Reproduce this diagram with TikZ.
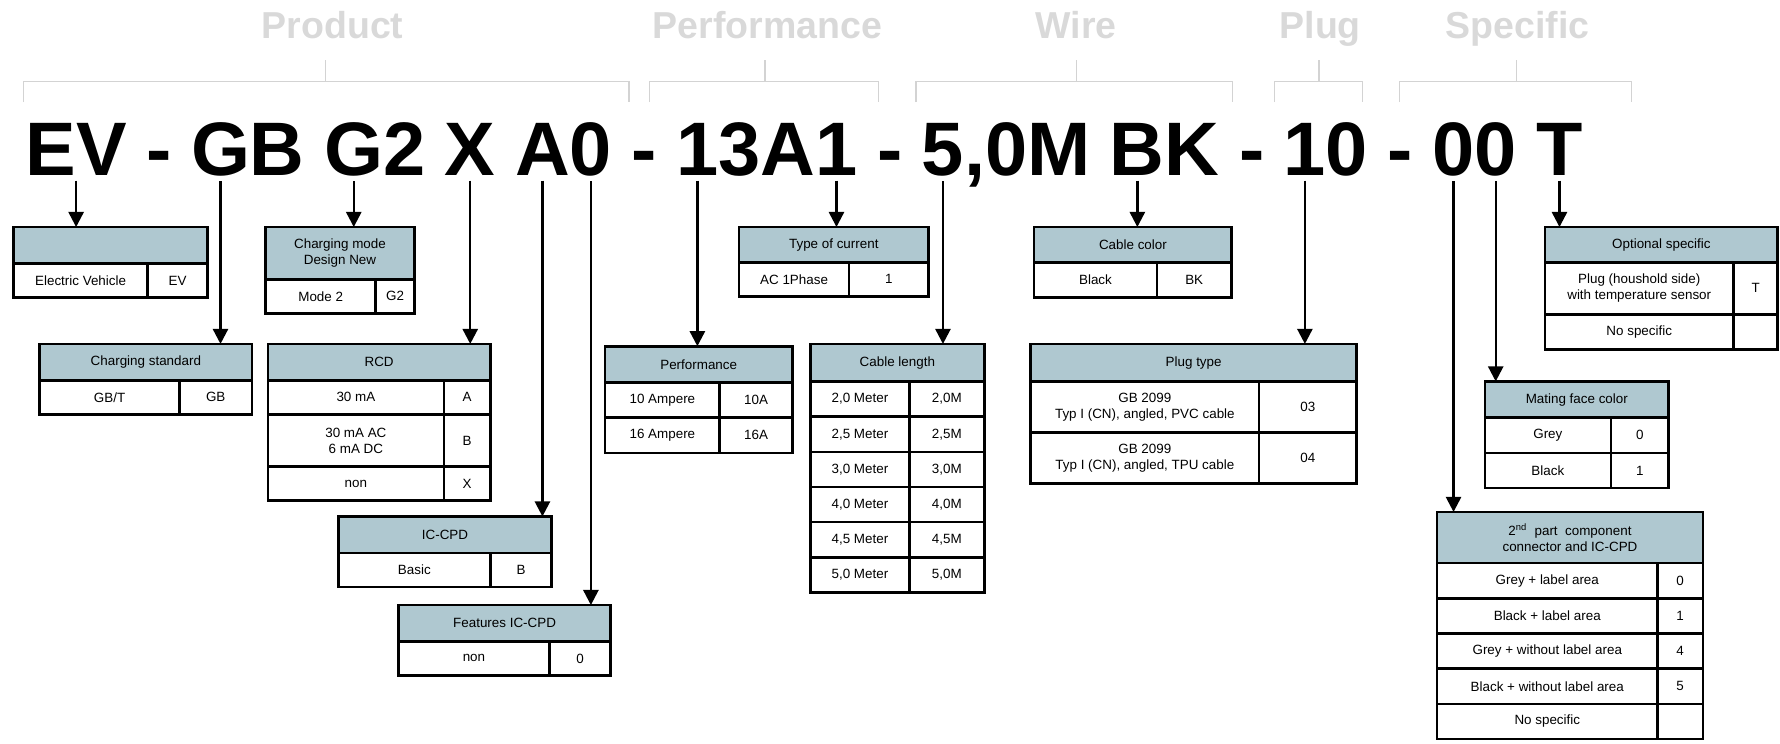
\documentclass[tikz,border=0pt]{standalone}
\usepackage{fontspec}
\setmainfont{Liberation Sans}
\usepackage{tikz}
\usepackage{xcolor}
\usetikzlibrary{arrows.meta,positioning}
\definecolor{hdrfill}  {HTML}{AFC8D0}
\definecolor{headgray} {HTML}{D9D9D9}
\definecolor{brkgray}  {HTML}{D3D3D3}
\newcommand\pxu{0.025cm}
\newcommand\codegap{0.43cm}
\newcommand\tabfont{\fontsize{8.4}{10}\selectfont}
\newcommand\grpfont{\bfseries\fontsize{23.5}{26}\selectfont}
\newcommand\codefont{\bfseries\fontsize{47.5}{55}\selectfont}
\tikzset{
  cell/.style  ={draw=black, fill=white, line width=1.6pt, inner sep=0pt,
                 outer sep=0pt, anchor=north west, align=center, font=\tabfont},
  hd/.style    ={cell, fill=hdrfill},
  wd/.style    ={minimum width=#1*\pxu},
  ht/.style    ={minimum height=#1*\pxu},
  code/.style  ={font=\codefont, inner sep=0pt, outer sep=0pt, anchor=base west},
  grp/.style   ={font=\grpfont, text=headgray, anchor=base},
  brk/.style   ={draw=brkgray, line width=0.8pt},
  arr/.style   ={-{Triangle[length=9.5pt,width=9.5pt]}, line width=1.5pt,
                 shorten <=3pt},
}
\begin{document}
\begin{tikzpicture}[x=0.025cm,y=-0.025cm]
  \useasboundingbox (0,0) rectangle (1568,655);

  % group headings
  \node[grp] (gProd) at (293,34)  {Product};
  \node[grp] (gPerf) at (676,34)  {Performance};
  \node[grp] (gWire) at (948,34)  {Wire};
  \node[grp] (gPlug) at (1163,34) {Plug};
  \node[grp] (gSpec) at (1337,34) {Specific};
  \draw[brk] (21,90) -- (21,72) -- (554,72) -- (554,90) (287,72) -- (287,53);
  \draw[brk] (572,90) -- (572,72) -- (774,72) -- (774,90) (674,72) -- (674,53);
  \draw[brk] (807,90) -- (807,72) -- (1086,72) -- (1086,90) (948,72) -- (948,53);
  \draw[brk] (1123,90) -- (1123,72) -- (1200,72) -- (1200,90) (1162,72) -- (1162,53);
  \draw[brk] (1233,90) -- (1233,72) -- (1437,72) -- (1437,90) (1336,72) -- (1336,53);

  % type code
  \node[code] (ev) at (22.5,155) {EV};
  \node[code] (dashA) at ([xshift=\codegap]ev.base east) {-};
  \node[code] (gbG) at ([xshift=\codegap]dashA.base east) {G};
  \node[code] (gbB) at (gbG.base east) {B};
  \node[code] (gtG) at ([xshift=\codegap]gbB.base east) {G};
  \node[code] (gtTwo) at (gtG.base east) {2};
  \node[code] (rcdX) at ([xshift=\codegap]gtTwo.base east) {X};
  \node[code] (icA) at ([xshift=\codegap]rcdX.base east) {A};
  \node[code] (icZero) at (icA.base east) {0};
  \node[code] (dashB) at ([xshift=\codegap]icZero.base east) {-};
  \node[code] (perfOne) at ([xshift=\codegap]dashB.base east) {1};
  \node[code] (perfMid) at (perfOne.base east) {3A};
  \node[code] (curOne) at (perfMid.base east) {1};
  \node[code] (dashC) at ([xshift=\codegap]curOne.base east) {-};
  \node[code] (lenFive) at ([xshift=\codegap]dashC.base east) {5};
  \node[code] (lenRest) at (lenFive.base east) {,0M};
  \node[code] (colB) at ([xshift=\codegap]lenRest.base east) {B};
  \node[code] (colK) at (colB.base east) {K};
  \node[code] (dashD) at ([xshift=\codegap]colK.base east) {-};
  \node[code] (plugOne) at ([xshift=\codegap]dashD.base east) {1};
  \node[code] (plugZero) at (plugOne.base east) {0};
  \node[code] (dashE) at ([xshift=\codegap]plugZero.base east) {-};
  \node[code] (partZero) at ([xshift=\codegap]dashE.base east) {0};
  \node[code] (mateZero) at (partZero.base east) {0};
  \node[code] (optT) at ([xshift=\codegap]mateZero.base east) {T};

  % electric vehicle
  \node[hd,wd=171,ht=32] (evH) at (12,200) {};
  \node[cell,wd=118,ht=30] (evL) at (evH.south west) {Electric Vehicle};
  \node[cell,wd=53,ht=30] (evC) at (evL.north east) {EV};

  % charging standard
  \node[hd,wd=187,ht=32] (stdH) at (35,303) {Charging standard};
  \node[cell,wd=123,ht=30] (stdL) at (stdH.south west) {GB/T};
  \node[cell,wd=64,ht=30] (stdC) at (stdL.north east) {GB};

  % charging mode
  \node[hd,wd=131,ht=46] (modeH) at (234,200) {Charging mode\\Design New};
  \node[cell,wd=97,ht=30] (modeL) at (modeH.south west) {Mode 2};
  \node[cell,wd=34,ht=30] (modeC) at (modeL.north east) {G2};

  % rcd
  \node[hd,wd=196,ht=32] (rcdH) at (236,303) {RCD};
  \node[cell,wd=155,ht=30] (rcdL1) at (rcdH.south west) {30 mA};
  \node[cell,wd=41,ht=30] (rcdC1) at (rcdL1.north east) {A};
  \node[cell,wd=155,ht=46] (rcdL2) at (rcdL1.south west) {30 mA AC\\6 mA DC};
  \node[cell,wd=41,ht=46] (rcdC2) at (rcdL2.north east) {B};
  \node[cell,wd=155,ht=30] (rcdL3) at (rcdL2.south west) {non};
  \node[cell,wd=41,ht=30] (rcdC3) at (rcdL3.north east) {X};

  % ic-cpd
  \node[hd,wd=188,ht=32] (icH) at (298,455) {IC-CPD};
  \node[cell,wd=134,ht=30] (icL) at (icH.south west) {Basic};
  \node[cell,wd=54,ht=30] (icC) at (icL.north east) {B};

  % features ic-cpd
  \node[hd,wd=187,ht=32] (featH) at (351,533) {Features IC-CPD};
  \node[cell,wd=133,ht=30] (featL) at (featH.south west) {non};
  \node[cell,wd=54,ht=30] (featC) at (featL.north east) {0};

  % performance
  \node[hd,wd=165,ht=32] (perfH) at (533,305) {Performance};
  \foreach \a [count=\i] in {10,16} {
    \node[cell,wd=101,ht=31] (perfL\i) at (533,{337+31*(\i-1)}) {\a\ Ampere};
    \node[cell,wd=64,ht=31] (perfC\i) at (perfL\i.north east) {\a A};
  }

  % type of current
  \node[hd,wd=167,ht=31] (curH) at (651,200) {Type of current};
  \node[cell,wd=97,ht=30] (curL) at (curH.south west) {AC 1Phase};
  \node[cell,wd=70,ht=30] (curC) at (curL.north east) {1};

  % cable length
  \node[hd,wd=153,ht=33] (lenH) at (714,303) {Cable length};
  \foreach \a/\b [count=\i] in {2/0,2/5,3/0,4/0,4/5,5/0} {
    \node[cell,wd=87,ht=31] (lenL\i) at (714,{336+31*(\i-1)}) {\a,\b\ Meter};
    \node[cell,wd=66,ht=31] (lenC\i) at (lenL\i.north east) {\a,\b M};
  }

  % cable color
  \node[hd,wd=174,ht=31] (colH) at (911,200) {Cable color};
  \node[cell,wd=108,ht=31] (colL) at (colH.south west) {Black};
  \node[cell,wd=66,ht=31] (colC) at (colL.north east) {BK};

  % plug type
  \node[hd,wd=287,ht=33] (plugH) at (908,303) {Plug type};
  \foreach \m/\c [count=\i] in {PVC/03,TPU/04} {
    \node[cell,wd=201,ht=45] (plugL\i) at (908,{336+45*(\i-1)})
      {GB 2099\\Typ I (CN), angled, \m\ cable};
    \node[cell,wd=86,ht=45] (plugC\i) at (plugL\i.north east) {\c};
  }

  % optional specific
  \node[hd,wd=205,ht=31] (optH) at (1361,200) {Optional specific};
  \node[cell,wd=166,ht=46] (optL1) at (optH.south west)
    {Plug (houshold side)\\with temperature sensor};
  \node[cell,wd=39,ht=46] (optC1) at (optL1.north east) {T};
  \node[cell,wd=166,ht=31] (optL2) at (optL1.south west) {No specific};
  \node[cell,wd=39,ht=31] (optC2) at (optL2.north east) {};

  % mating face color
  \node[hd,wd=162,ht=32] (mateH) at (1308,336) {Mating face color};
  \foreach \m/\c [count=\i] in {Grey/0,Black/1} {
    \node[cell,wd=111,ht=31] (mateL\i) at (1308,{368+31*(\i-1)}) {\m};
    \node[cell,wd=51,ht=31] (mateC\i) at (mateL\i.north east) {\c};
  }

  % 2nd part component
  \node[hd,wd=234,ht=45] (partH) at (1266,451)
    {2\textsuperscript{nd}\ \ part\ \ component\\connector and IC-CPD};
  \foreach \m/\c [count=\i] in {Grey + label area/0,Black + label area/1,
      Grey + without label area/4,Black + without label area/5,No specific/{}} {
    \node[cell,wd=194,ht=31] (partL\i) at (1266,{496+31*(\i-1)}) {\m};
    \node[cell,wd=40,ht=31] (partC\i) at (partL\i.north east) {\c};
  }

  % arrows
  \draw[arr] (ev.south) -- (ev.south |- evH.north);
  \draw[arr] (gbG.south) -- (gbG.south |- stdH.north);
  \draw[arr] (gtG.south) -- (gtG.south |- modeH.north);
  \draw[arr] (rcdX.south) -- (rcdX.south |- rcdH.north);
  \draw[arr] (icA.south) -- (icA.south |- icH.north);
  \draw[arr] (icZero.south) -- (icZero.south |- featH.north);
  \draw[arr] (perfOne.south) -- (perfOne.south |- perfH.north);
  \draw[arr] (curOne.south) -- (curOne.south |- curH.north);
  \draw[arr] (lenFive.south) -- (lenFive.south |- lenH.north);
  \draw[arr] (colB.south) -- (colB.south |- colH.north);
  \draw[arr] (plugOne.south) -- (plugOne.south |- plugH.north);
  \draw[arr] (partZero.south) -- (partZero.south |- partH.north);
  \draw[arr] (mateZero.south) -- (mateZero.south |- mateH.north);
  \draw[arr] (optT.south) -- (optT.south |- optH.north);
\end{tikzpicture}
\end{document}
